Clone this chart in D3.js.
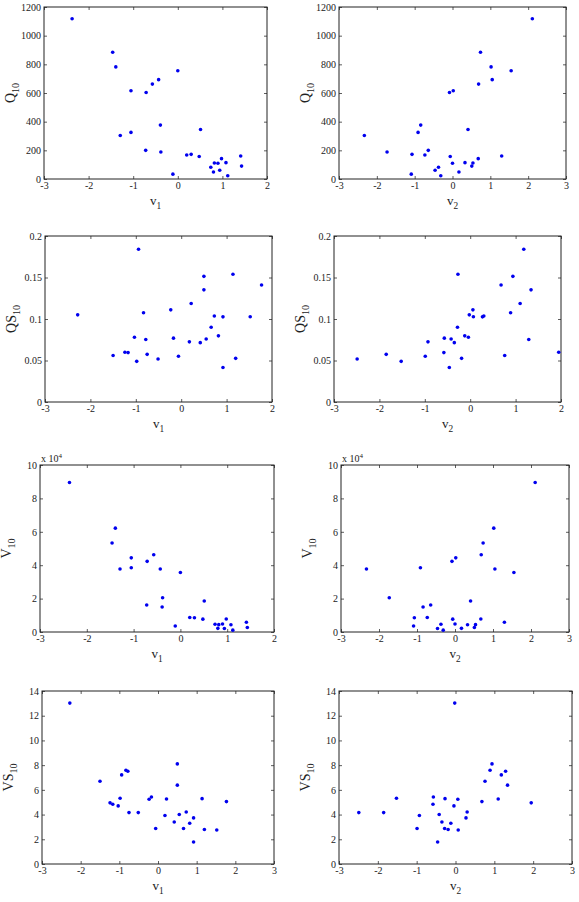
<!DOCTYPE html>
<html>
<head>
<meta charset="utf-8">
<script src="https://cdn.jsdelivr.net/npm/d3@7"></script>
<style>
  body { margin: 0; background: #fff; }
  svg { display: block; }
  text { font-family: 'Liberation Serif', 'Times New Roman', serif; fill: #222; }
</style>
</head>
<body>
<svg id="chart" width="579" height="902"></svg>
<script>
// set A: Q10 and V10 against v1, v2
const v1a = [-2.37, -1.46, -1.39, -1.29, -1.05, -1.05, -0.71, -0.72, -0.57, -0.43, -0.38, -0.39, -0.11, 0.00,
             0.20, 0.30, 0.48, 0.51, 1.41, 0.74, 0.80, 0.82, 0.90, 0.94, 0.98, 1.08, 1.12, 1.43];
const v2a = [2.11, 0.74, 1.02, -2.33, 0.02, -0.91, -0.08, -0.64, 0.69, 1.05, -1.73, -0.84, -1.09, 1.55,
             -0.73, -1.07, -0.06, 0.41, 1.30, -0.37, 0.17, 0.54, 0.00, -0.46, 0.68, 0.33, -0.31, 0.51];
const q10 = [1118, 884, 782, 303, 616, 325, 604, 200, 662, 693, 188, 376, 34, 755,
             167, 172, 157, 345, 160, 82, 49, 112, 110, 61, 142, 114, 23, 90];
const v10 = [89500, 53300, 62200, 37700, 44400, 38500, 42300, 16200, 46300, 37700, 20500, 15000, 3600, 35600,
             8700, 8500, 7700, 18600, 5800, 4600, 2200, 4400, 4800, 2100, 7800, 4300, 1100, 2700];

// set B: QS10 and VS10 against v1, v2
const v1b = [-2.28, -1.50, -1.24, -1.17, -1.03, -0.98, -0.94, -0.83, -0.78, -0.75, -0.51, -0.23, -0.17, -0.06, 0.18,
             0.22, 0.42, 0.50, 0.50, 0.55, 0.66, 0.73, 0.82, 0.92, 0.92, 1.14, 1.20, 1.52, 1.77];
const v2b = [-0.02, 0.76, 1.95, -0.58, -0.04, -1.52, 1.18, 0.89, 1.29, -1.85, -2.49, 0.06, -0.57, -0.99, -0.93,
             1.10, -0.35, 0.94, 1.34, -0.42, -0.28, 0.30, -0.12, 0.27, -0.46, -0.27, -0.19, 0.07, 0.68];
const qs10 = [0.105, 0.056, 0.060, 0.0595, 0.078, 0.049, 0.184, 0.1076, 0.0753, 0.0574, 0.0518, 0.111, 0.0769, 0.0552, 0.0725,
              0.1187, 0.0715, 0.1514, 0.1351, 0.0759, 0.090, 0.1036, 0.0797, 0.1026, 0.0416, 0.154, 0.0526, 0.1028, 0.141];
const vs10 = [13.02, 6.70, 4.95, 4.84, 4.70, 5.32, 7.21, 7.59, 7.51, 4.16, 4.16, 5.24, 5.42, 2.87, 3.92,
              5.26, 3.40, 8.10, 6.38, 4.01, 2.87, 4.21, 3.30, 3.73, 1.78, 5.29, 2.79, 2.75, 5.05];

// tick values
const xTicks5 = [-3, -2, -1, 0, 1, 2];
const xTicks6 = [-3, -2, -1, 0, 1, 2, 3];
const qTicks = [0, 200, 400, 600, 800, 1000, 1200];
const qsTicks = [0, 0.05, 0.1, 0.15, 0.2];
const vTicks = [0, 20000, 40000, 60000, 80000, 100000];
const vsTicks = [0, 2, 4, 6, 8, 10, 12, 14];

const panels = [
    { box: [44, 7, 267, 179], x: v1a, y: q10, xDom: [-3, 2], xTicks: xTicks5, yDom: [0, 1200], yTicks: qTicks, xl: ['v', '1'], yl: ['Q', '10'] },
    { box: [339, 7, 566, 179], x: v2a, y: q10, xDom: [-3, 3], xTicks: xTicks6, yDom: [0, 1200], yTicks: qTicks, xl: ['v', '2'], yl: ['Q', '10'] },
    { box: [45, 236, 272, 402], x: v1b, y: qs10, xDom: [-3, 2], xTicks: xTicks5, yDom: [0, 0.2], yTicks: qsTicks, xl: ['v', '1'], yl: ['QS', '10'] },
    { box: [334, 236, 561, 402], x: v2b, y: qs10, xDom: [-3, 2], xTicks: xTicks5, yDom: [0, 0.2], yTicks: qsTicks, xl: ['v', '2'], yl: ['QS', '10'] },
    { box: [40, 465, 274, 632], x: v1a, y: v10, xDom: [-3, 2], xTicks: xTicks5, yDom: [0, 100000], yTicks: vTicks, xl: ['v', '1'], yl: ['V', '10'], exp: true },
    { box: [341, 465, 569, 632], x: v2a, y: v10, xDom: [-3, 3], xTicks: xTicks6, yDom: [0, 100000], yTicks: vTicks, xl: ['v', '2'], yl: ['V', '10'], exp: true },
    { box: [42, 691, 274, 864], x: v1b, y: vs10, xDom: [-3, 3], xTicks: xTicks6, yDom: [0, 14], yTicks: vsTicks, xl: ['v', '1'], yl: ['VS', '10'] },
    { box: [339, 691, 572, 864], x: v2b, y: vs10, xDom: [-3, 3], xTicks: xTicks6, yDom: [0, 14], yTicks: vsTicks, xl: ['v', '2'], yl: ['VS', '10'] }
];

const svg = d3.select('#chart');
const tickLen = 3;

function subLabel(g, parts, size) {
    g.append('tspan').text(parts[0]).attr('font-size', size);
    g.append('tspan').text(parts[1]).attr('font-size', size * 0.72).attr('dy', size * 0.3);
}

panels.forEach(p => {
    const [x0, y0, x1, y1] = p.box;
    const x = d3.scaleLinear().domain(p.xDom).range([x0, x1]);
    const y = d3.scaleLinear().domain(p.yDom).range([y1, y0]);
    const yFmt = p.exp ? (d => d / 10000) : (d => d);

    const g = svg.append('g');

    // mirrored inward ticks, MATLAB style
    g.append('g')
        .attr('transform', `translate(0,${y1})`)
        .call(d3.axisBottom(x).tickValues(p.xTicks).tickSizeInner(-tickLen).tickSizeOuter(0).tickPadding(3).tickFormat(d => d));
    g.append('g')
        .attr('transform', `translate(0,${y0})`)
        .call(d3.axisTop(x).tickValues(p.xTicks).tickSizeInner(-tickLen).tickSizeOuter(0).tickFormat(''));
    g.append('g')
        .attr('transform', `translate(${x0},0)`)
        .call(d3.axisLeft(y).tickValues(p.yTicks).tickSizeInner(-tickLen).tickSizeOuter(0).tickPadding(3).tickFormat(yFmt));
    g.append('g')
        .attr('transform', `translate(${x1},0)`)
        .call(d3.axisRight(y).tickValues(p.yTicks).tickSizeInner(-tickLen).tickSizeOuter(0).tickFormat(''));

    g.selectAll('.domain').remove();
    g.selectAll('g').attr('font-family', "'Liberation Serif', serif");
    g.selectAll('.tick line').attr('stroke', '#333').attr('stroke-width', 0.8);
    g.selectAll('.tick text')
        .attr('font-size', 10)
        .attr('fill', '#222');

    g.append('rect')
        .attr('x', x0).attr('y', y0)
        .attr('width', x1 - x0).attr('height', y1 - y0)
        .attr('fill', 'none')
        .attr('stroke', '#222')
        .attr('stroke-width', 1);

    if (p.exp) {
        const t = g.append('text')
            .attr('x', x0 + 1).attr('y', y0 - 3)
            .attr('font-size', 10);
        t.append('tspan').text('x 10');
        t.append('tspan').text('4').attr('font-size', 7).attr('dy', -4);
    }

    const pts = p.x.map((d, i) => [d, p.y[i]]);
    g.append('g')
        .selectAll('circle')
        .data(pts)
        .enter()
        .append('circle')
            .attr('cx', d => x(d[0]))
            .attr('cy', d => y(d[1]))
            .attr('r', 1.8)
            .attr('fill', '#0000ee');

    // axis titles
    const xt = g.append('text')
        .attr('x', (x0 + x1) / 2)
        .attr('y', y1 + 26)
        .attr('text-anchor', 'middle');
    subLabel(xt, p.xl, 13);

    const yt = g.append('text')
        .attr('transform', `translate(${x0 - 29},${(y0 + y1) / 2}) rotate(-90)`)
        .attr('text-anchor', 'middle');
    subLabel(yt, p.yl, 14);
});
</script>
</body>
</html>
